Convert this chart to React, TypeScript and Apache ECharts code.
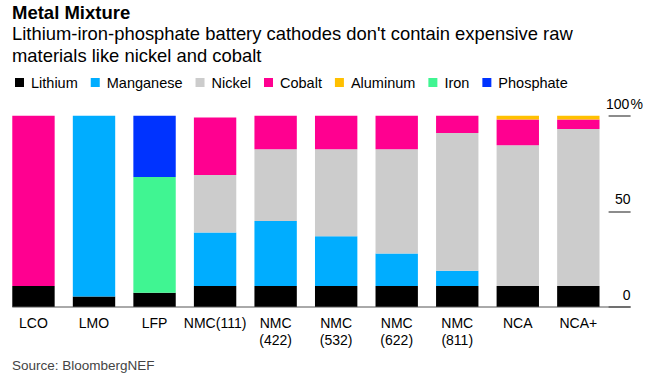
import React, { useEffect, useRef } from "react";
import * as echarts from "echarts";

const categories = ["LCO", "LMO", "LFP", "NMC(111)", "NMC\n(422)", "NMC\n(532)", "NMC\n(622)", "NMC\n(811)", "NCA", "NCA+"];
const lithium = [11, 5.5, 7.5, 11, 11, 11, 11, 11, 11, 11];
const manganese = [null, 94.5, null, 28, 34, 26, 17, 8, null, null];
const iron = [null, null, 60.5, null, null, null, null, null, null, null];
const nickel = [null, null, null, 30, 37.5, 45.5, 54.5, 72, 73.5, 82];
const cobalt = [89, null, null, 30, 17.5, 17.5, 17.5, 9, 13.5, 5];
const aluminum = [null, null, null, null, null, null, null, null, 2, 2];
const phosphate = [null, null, 33, null, null, null, null, null, null, null];
const legendOrder = ["Lithium", "Manganese", "Nickel", "Cobalt", "Aluminum", "Iron", "Phosphate"];
const yTicks = [0, 50, 100];

const FONT = "'Liberation Sans', Arial, Helvetica, sans-serif";
const W = 660;
const H = 388;
const GRID_LEFT = 3.2;
const GRID_RIGHT_X = 608.6;
const GRID_TOP = 115.7;
const GRID_BOTTOM_Y = 307;
const TICK_LEN = 22;
const NUM_BOX = 26;

export default function App() {
  const ref = useRef<HTMLDivElement>(null);
  useEffect(() => {
    if (!ref.current) return;
    const chart = echarts.init(ref.current, null, { renderer: "svg" });
    const band = (GRID_RIGHT_X - GRID_LEFT) / categories.length;
    const mk = (name: string, data: (number | null)[], color: string) => ({
      name,
      type: "bar",
      stack: "total",
      data,
      barCategoryGap: "30%",
      itemStyle: { color },
      emphasis: { disabled: true },
    });
    chart.setOption({
      animation: false,
      backgroundColor: "#ffffff",
      title: [
        {
          text: "Metal Mixture",
          left: 12,
          top: 1.9,
          padding: 0,
          textStyle: { fontFamily: FONT, fontSize: 18.5, fontWeight: "bold", color: "#000", lineHeight: 22 },
        },
        {
          text: "Lithium-iron-phosphate battery cathodes don't contain expensive raw\nmaterials like nickel and cobalt",
          left: 12,
          top: 21.9,
          padding: 0,
          textStyle: { fontFamily: FONT, fontSize: 18.4, fontWeight: "normal", color: "#000", lineHeight: 22.4 },
        },
        {
          text: "Source: BloombergNEF",
          left: 12,
          top: 357.5,
          padding: 0,
          textStyle: { fontFamily: FONT, fontSize: 13.5, fontWeight: "normal", color: "#444", lineHeight: 16 },
        },
      ],
      legend: {
        data: legendOrder,
        left: 15,
        top: 74.5,
        padding: 0,
        itemWidth: 9,
        itemHeight: 9,
        itemGap: 13,
        icon: "rect",
        selectedMode: false,
        textStyle: { fontFamily: FONT, fontSize: 14.5, color: "#000", padding: [0, 0, 0, 2], lineHeight: 16 },
      },
      grid: {
        left: GRID_LEFT,
        top: GRID_TOP,
        right: W - GRID_RIGHT_X,
        bottom: H - GRID_BOTTOM_Y,
        containLabel: false,
      },
      xAxis: {
        type: "category",
        data: categories,
        axisLine: { show: false },
        axisTick: { show: false },
        axisLabel: {
          interval: 0,
          margin: 7,
          fontFamily: FONT,
          fontSize: 14,
          lineHeight: 17,
          color: "#000",
          verticalAlign: "top",
        },
      },
      yAxis: {
        type: "value",
        position: "right",
        min: 0,
        max: 100,
        interval: 50,
        axisLine: { show: false },
        splitLine: { show: false },
        axisTick: { show: true, length: TICK_LEN, lineStyle: { color: "#666", width: 1.5 } },
        axisLabel: {
          margin: TICK_LEN - NUM_BOX,
          align: "left",
          verticalAlign: "bottom",
          padding: [0, 0, 5, 0],
          fontFamily: FONT,
          fontSize: 14,
          color: "#000",
          formatter: (v: number) =>
            v === yTicks[yTicks.length - 1] ? `{n|${v}}{p|%}` : `{n|${v}}`,
          rich: {
            n: { width: NUM_BOX, align: "right", fontFamily: FONT, fontSize: 14, color: "#000" },
            p: { align: "left", fontFamily: FONT, fontSize: 14, color: "#000" },
          },
        },
      },
      graphic: [
        {
          type: "line",
          silent: true,
          shape: {
            x1: GRID_LEFT + band * 0.15,
            y1: GRID_BOTTOM_Y,
            x2: GRID_RIGHT_X + TICK_LEN,
            y2: GRID_BOTTOM_Y,
          },
          style: { stroke: "#555", lineWidth: 1 },
          z: 10,
        },
      ],
      series: [
        mk("Lithium", lithium, "#000000"),
        mk("Manganese", manganese, "#00adff"),
        mk("Iron", iron, "#40f592"),
        mk("Nickel", nickel, "#cccccc"),
        mk("Cobalt", cobalt, "#ff0090"),
        mk("Aluminum", aluminum, "#ffc000"),
        mk("Phosphate", phosphate, "#0033ff"),
      ],
    });
    return () => chart.dispose();
  }, []);
  return (
    <div
      ref={ref}
      style={{ position: "fixed", left: 0, top: 0, width: W, height: H, background: "#fff" }}
    />
  );
}
